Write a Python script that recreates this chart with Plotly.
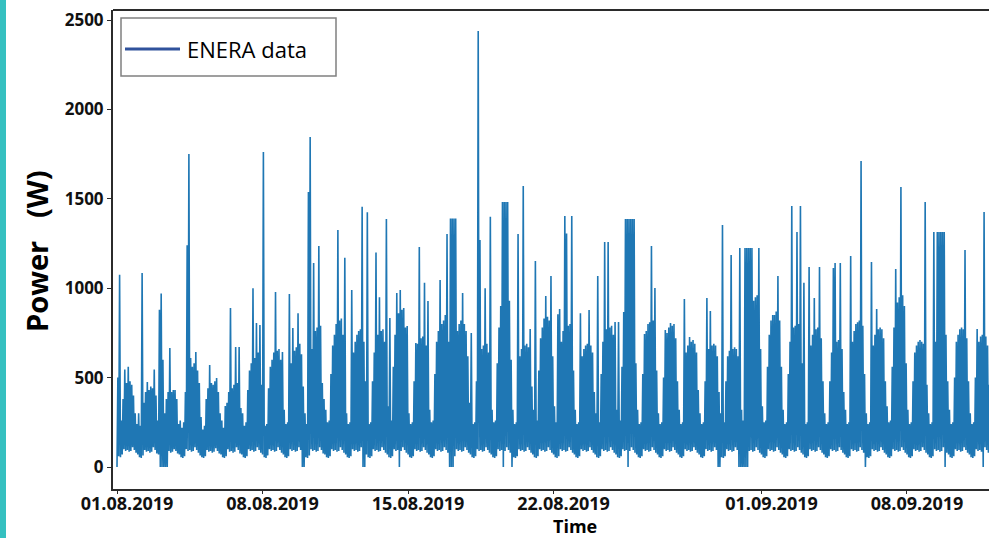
import pandas as pd
import plotly.graph_objects as go

# Hourly power readings (W), one row per day starting 01.08.2019 00:00
hourly_power_w = [
    [0, 500, 60, 1075, 55, 260, 70, 380, 100, 545, 90, 470, 95, 560, 85, 480, 90, 460, 110, 400, 95, 300, 80, 240],
    [70, 300, 55, 230, 50, 1085, 65, 360, 95, 420, 85, 475, 90, 430, 80, 450, 85, 440, 110, 545, 95, 400, 75, 260],
    [70, 880, 0, 970, 0, 600, 0, 300, 0, 380, 0, 420, 90, 665, 80, 420, 85, 430, 100, 430, 90, 380, 75, 240],
    [70, 260, 55, 220, 50, 250, 60, 420, 100, 1240, 90, 1750, 95, 610, 85, 560, 90, 580, 110, 643, 95, 540, 80, 470],
    [65, 280, 55, 210, 50, 230, 60, 380, 95, 440, 85, 570, 90, 470, 80, 460, 85, 480, 105, 498, 90, 420, 75, 300],
    [70, 260, 55, 220, 50, 341, 60, 360, 100, 420, 85, 889, 90, 440, 80, 460, 85, 671, 110, 470, 95, 671, 75, 330],
    [70, 300, 55, 230, 50, 250, 60, 430, 100, 540, 90, 580, 95, 1000, 85, 610, 90, 805, 110, 640, 95, 794, 80, 460],
    [70, 1762, 55, 230, 50, 240, 65, 440, 100, 560, 90, 600, 95, 640, 85, 979, 90, 650, 110, 660, 95, 600, 80, 643],
    [70, 320, 55, 240, 50, 250, 60, 968, 100, 580, 90, 777, 95, 650, 85, 670, 90, 860, 110, 690, 95, 630, 0, 450],
    [0, 300, 55, 240, 50, 1538, 65, 1846, 100, 660, 90, 1141, 95, 760, 85, 780, 90, 1236, 110, 790, 95, 470, 75, 380],
    [70, 320, 55, 250, 50, 260, 60, 520, 100, 680, 90, 740, 95, 800, 85, 1325, 90, 820, 110, 830, 95, 740, 80, 1170],
    [70, 300, 55, 240, 50, 250, 60, 990, 100, 640, 90, 700, 95, 740, 85, 760, 90, 770, 110, 1455, 0, 700, 0, 480],
    [70, 1425, 55, 240, 50, 250, 60, 480, 100, 640, 90, 1200, 95, 740, 85, 950, 90, 760, 110, 770, 95, 700, 80, 1387],
    [70, 340, 55, 833, 50, 260, 60, 560, 100, 740, 90, 973, 95, 860, 0, 990, 90, 880, 110, 890, 95, 780, 80, 789],
    [70, 300, 55, 240, 50, 250, 60, 480, 100, 693, 90, 690, 95, 1230, 85, 720, 90, 730, 110, 1030, 95, 680, 80, 928],
    [70, 320, 55, 250, 50, 260, 60, 520, 100, 700, 90, 760, 95, 1046, 85, 800, 90, 820, 110, 850, 95, 1303, 80, 700],
    [0, 1390, 0, 1390, 0, 1390, 60, 1390, 100, 760, 90, 800, 95, 820, 85, 973, 90, 800, 110, 760, 95, 620, 80, 360],
    [70, 750, 55, 240, 50, 250, 60, 480, 100, 2438, 90, 1270, 95, 660, 85, 680, 90, 1000, 110, 690, 95, 640, 80, 1400],
    [70, 320, 55, 250, 50, 260, 60, 580, 100, 780, 90, 900, 95, 1482, 0, 1482, 90, 1482, 110, 1482, 95, 930, 80, 600],
    [0, 320, 55, 240, 50, 250, 60, 1303, 100, 620, 90, 660, 95, 1572, 85, 680, 90, 690, 110, 670, 95, 772, 80, 450],
    [70, 320, 55, 1152, 50, 260, 60, 540, 100, 720, 90, 780, 95, 830, 85, 956, 90, 840, 110, 820, 95, 1068, 80, 620],
    [70, 340, 55, 250, 50, 855, 60, 884, 100, 700, 90, 760, 95, 1404, 85, 1306, 90, 790, 110, 800, 95, 1404, 80, 540],
    [70, 320, 55, 240, 50, 250, 60, 860, 100, 620, 90, 660, 95, 680, 85, 690, 90, 878, 110, 680, 95, 640, 80, 420],
    [70, 300, 55, 1068, 50, 250, 60, 520, 100, 700, 90, 1258, 95, 770, 85, 1258, 90, 780, 110, 790, 95, 740, 80, 811],
    [70, 320, 55, 811, 50, 260, 60, 560, 100, 867, 90, 1387, 95, 1387, 0, 1387, 90, 1387, 110, 1387, 95, 1387, 80, 580],
    [70, 320, 55, 240, 50, 250, 60, 520, 100, 744, 90, 760, 95, 800, 85, 810, 90, 1236, 110, 820, 95, 1001, 80, 540],
    [70, 300, 55, 240, 50, 250, 60, 500, 100, 766, 90, 750, 95, 780, 85, 805, 90, 790, 110, 800, 95, 720, 80, 480],
    [70, 320, 55, 240, 50, 250, 60, 940, 100, 640, 90, 680, 95, 727, 85, 700, 90, 710, 110, 690, 95, 640, 80, 430],
    [70, 300, 55, 240, 50, 250, 60, 480, 100, 945, 90, 660, 95, 872, 85, 680, 90, 690, 110, 680, 95, 620, 0, 420],
    [0, 300, 55, 1353, 50, 250, 60, 480, 100, 620, 90, 650, 95, 1186, 85, 660, 90, 670, 110, 660, 95, 620, 0, 1225],
    [0, 320, 0, 260, 0, 1225, 0, 1225, 0, 1225, 90, 1225, 95, 1225, 85, 930, 90, 950, 110, 960, 95, 1225, 80, 660],
    [70, 340, 55, 250, 50, 260, 60, 560, 100, 740, 90, 820, 95, 850, 85, 850, 90, 870, 110, 1068, 95, 820, 80, 560],
    [70, 320, 55, 240, 50, 250, 60, 520, 100, 700, 90, 1460, 95, 780, 85, 790, 90, 1314, 110, 800, 95, 1460, 80, 580],
    [70, 1030, 55, 240, 50, 250, 60, 1119, 100, 680, 90, 740, 95, 945, 85, 770, 90, 780, 110, 1119, 95, 720, 80, 480],
    [70, 300, 55, 240, 50, 250, 60, 480, 100, 640, 90, 1113, 95, 1141, 85, 700, 90, 710, 110, 1141, 95, 660, 80, 420],
    [70, 320, 55, 240, 50, 250, 60, 1180, 100, 700, 90, 760, 95, 800, 85, 810, 90, 820, 110, 1711, 95, 790, 80, 520],
    [0, 300, 55, 240, 50, 250, 60, 1146, 100, 680, 90, 740, 95, 884, 85, 770, 90, 780, 110, 770, 95, 720, 80, 480],
    [70, 340, 55, 250, 50, 260, 60, 560, 100, 780, 90, 1107, 95, 920, 85, 950, 90, 1566, 110, 960, 95, 900, 80, 580],
    [70, 320, 55, 240, 50, 250, 60, 480, 100, 640, 90, 680, 95, 700, 85, 710, 90, 700, 110, 690, 95, 1482, 80, 460],
    [70, 300, 55, 240, 50, 250, 60, 1314, 100, 700, 90, 1314, 95, 1314, 85, 1314, 90, 1314, 110, 1314, 0, 740, 80, 480],
    [70, 320, 55, 240, 50, 250, 60, 500, 100, 700, 90, 740, 95, 770, 85, 780, 90, 770, 110, 1214, 95, 720, 80, 480],
    [70, 300, 55, 240, 50, 250, 60, 500, 100, 772, 90, 700, 95, 730, 85, 740, 0, 1426, 110, 730, 95, 680, 80, 460],
]
series_start = "2019-08-01 00:00"

x_tick_dates = ["2019-08-01", "2019-08-08", "2019-08-15", "2019-08-22", "2019-09-01", "2019-09-08"]
x_tick_labels = ["01.08.2019", "08.08.2019", "15.08.2019", "22.08.2019", "01.09.2019", "08.09.2019"]
y_tick_values = [0, 500, 1000, 1500, 2000, 2500]

legend_label = "ENERA data"
x_title = "Time"
y_title = "Power\u00a0\u00a0\u00a0(W)"

power = [v for day in hourly_power_w for v in day]
times = pd.date_range(series_start, periods=len(power), freq="h")

W, H = 989, 538
ML, MR, MT, MB = 113, 0, 10, 49
plot_w = W - ML - MR
plot_h = H - MT - MB


def px_x(p):
    return (p - ML) / plot_w


def px_y(p):
    return (H - MB - p) / plot_h


fig = go.Figure()
fig.add_trace(go.Scatter(
    x=times, y=power, mode="lines",
    line=dict(color="#1f77b4", width=1.6),
    showlegend=False, hoverinfo="skip",
))

tick_font = dict(family="Open Sans", color="#111111", weight="bold")
axis_color = "#2b2b2b"

fig.update_layout(
    width=W, height=H,
    margin=dict(l=ML, r=MR, t=MT, b=MB, pad=0),
    paper_bgcolor="white", plot_bgcolor="white",
    showlegend=False,
    xaxis=dict(
        type="date",
        range=["2019-07-31 19:23", "2019-09-11 22:41"],
        tickvals=x_tick_dates, ticktext=x_tick_labels,
        tickfont=dict(size=18, **tick_font),
        ticks="outside", ticklen=3, tickwidth=1, tickcolor=axis_color,
        ticklabelshift=10, ticklabelstandoff=-6,
        showline=True, linecolor=axis_color, linewidth=2,
        showgrid=False, zeroline=False, mirror=False,
    ),
    yaxis=dict(
        range=[-123, 2556],
        tickvals=y_tick_values,
        tickfont=dict(size=17, **tick_font),
        ticks="outside", ticklen=4, tickwidth=1, tickcolor=axis_color,
        showline=True, linecolor=axis_color, linewidth=2,
        showgrid=False, zeroline=False, mirror=False,
    ),
)

shapes = [
    # top frame line (the right edge runs past the page)
    dict(type="line", xref="paper", yref="paper", x0=0, x1=1, y0=1, y1=1,
         line=dict(color=axis_color, width=2)),
    # teal strip on the left edge
    dict(type="rect", xref="paper", yref="paper",
         x0=px_x(0), x1=px_x(6), y0=px_y(H), y1=px_y(0),
         fillcolor="#35c0c0", line=dict(width=0), layer="above"),
    # legend box
    dict(type="rect", xref="paper", yref="paper",
         x0=px_x(121), x1=px_x(336), y0=px_y(76), y1=px_y(18),
         fillcolor="white", line=dict(color="#808080", width=1.5), layer="above"),
    # legend line sample
    dict(type="line", xref="paper", yref="paper",
         x0=px_x(125), x1=px_x(180), y0=px_y(49), y1=px_y(49),
         line=dict(color="#30529c", width=3), layer="above"),
]
fig.update_layout(shapes=shapes)

annotations = [
    dict(text=legend_label, xref="paper", yref="paper", x=px_x(185), y=px_y(49),
         xanchor="left", yanchor="middle", showarrow=False,
         font=dict(family="Open Sans", size=22, color="black")),
    dict(text=y_title, xref="paper", yref="paper", x=px_x(36), y=px_y(251),
         xanchor="center", yanchor="middle", textangle=-90, showarrow=False,
         font=dict(family="Open Sans", size=29, color="black", weight="bold")),
    dict(text=x_title, xref="paper", yref="paper", x=px_x(575), y=px_y(526),
         xanchor="center", yanchor="middle", showarrow=False,
         font=dict(family="Open Sans", size=18, color="black", weight="bold")),
]
fig.update_layout(annotations=annotations)

fig.write_html("out.html")
